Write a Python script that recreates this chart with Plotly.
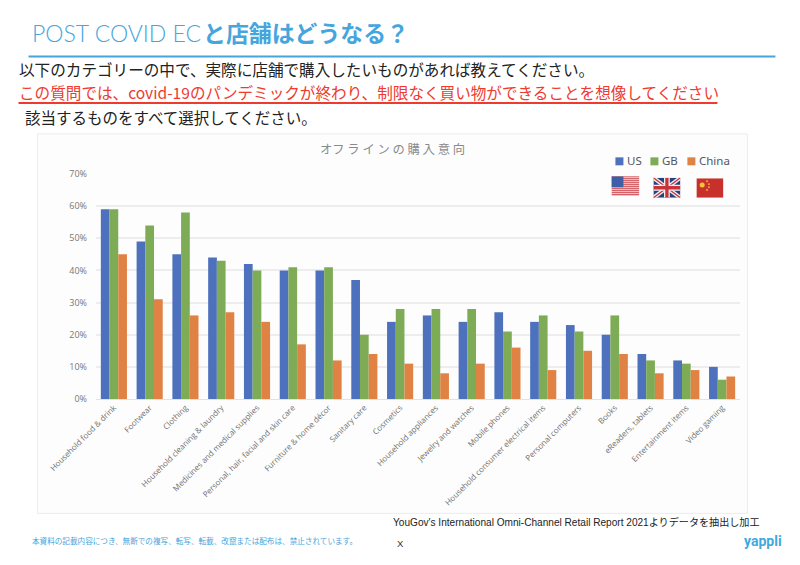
import base64
import plotly.graph_objects as go

categories = ["Household food & drink", "Footwear", "Clothing", "Household cleaning & laundry",
              "Medicines and medical supplies", "Personal, hair, facial and skin care",
              "Furniture & home décor", "Sanitary care", "Cosmetics", "Household appliances",
              "Jewelry and watches", "Mobile phones", "Household consumer electrical items",
              "Personal computers", "Books", "eReaders, tablets", "Entertainment items", "Video gaming"]
us = [59, 49, 45, 44, 42, 40, 40, 37, 24, 26, 24, 27, 24, 23, 20, 14, 12, 10]
gb = [59, 54, 58, 43, 40, 41, 41, 20, 28, 28, 28, 21, 26, 21, 26, 12, 11, 6]
china = [45, 31, 26, 27, 24, 17, 12, 14, 11, 8, 11, 16, 9, 15, 14, 8, 9, 7]
y_ticks = [0, 10, 20, 30, 40, 50, 60, 70]

W, H = 800, 565
L, R, T, B = 95.5, 739.6, 173.7, 399.3
BLUE, GREEN, ORANGE = "#4d71bd", "#7eab55", "#df8244"
JP = "Noto Sans CJK JP"


def px(x):
    return (x - L) / (R - L)


def py(y):
    return (B - y) / (B - T)


def label(x, y, text, size, color, anchor="left", family=JP, weight=None):
    font = dict(size=size, color=color, family=family)
    if weight:
        font["weight"] = weight
    return dict(x=px(x), y=py(y), xref="paper", yref="paper", text=text, showarrow=False,
                xanchor=anchor, yanchor="middle", font=font, borderpad=0, borderwidth=0)


def box(x0, y0, x1, y1, fill=None, line=None, width=1, layer="above"):
    return dict(type="rect", xref="paper", yref="paper", x0=px(x0), x1=px(x1), y0=py(y0), y1=py(y1),
                fillcolor=fill or "rgba(0,0,0,0)", line=dict(color=line or "rgba(0,0,0,0)", width=width if line else 0),
                layer=layer)


def rule(x0, x1, y, color, width):
    return dict(type="line", xref="paper", yref="paper", x0=px(x0), x1=px(x1), y0=py(y), y1=py(y),
                line=dict(color=color, width=width), layer="above")


fig = go.Figure()
for name, vals, color in (("US", us, BLUE), ("GB", gb, GREEN), ("China", china, ORANGE)):
    fig.add_bar(x=categories, y=vals, name=name, marker=dict(color=color, line=dict(width=0)))


def flag(svg):
    return "data:image/svg+xml;base64," + base64.b64encode(svg.encode()).decode()


us_stripes = "".join(f'<rect y="{i*2}" width="28" height="1" fill="#c9323a"/>' for i in range(0, 10))
us_flag = ('<svg xmlns="http://www.w3.org/2000/svg" viewBox="0 0 28 20" width="280" height="200">'
           '<rect width="28" height="20" fill="#f4f4f4"/>' + us_stripes +
           '<rect width="12" height="11" fill="#3f5ea8"/></svg>')
gb_flag = ('<svg xmlns="http://www.w3.org/2000/svg" viewBox="0 0 28 20" width="280" height="200">'
           '<rect width="28" height="20" fill="#27407f"/>'
           '<path d="M0 0L28 20M28 0L0 20" stroke="#eee" stroke-width="4"/>'
           '<path d="M0 0L28 20M28 0L0 20" stroke="#c9323a" stroke-width="1.4"/>'
           '<path d="M14 0V20M0 10H28" stroke="#eee" stroke-width="6"/>'
           '<path d="M14 0V20M0 10H28" stroke="#c9323a" stroke-width="3.4"/></svg>')
cn_flag = ('<svg xmlns="http://www.w3.org/2000/svg" viewBox="0 0 28 20" width="280" height="200">'
           '<rect width="28" height="20" fill="#c8302c"/>'
           '<circle cx="6" cy="7" r="2.6" fill="#f3c13a"/>'
           '<circle cx="11" cy="3" r=".9" fill="#f3c13a"/><circle cx="13" cy="6" r=".9" fill="#f3c13a"/>'
           '<circle cx="13" cy="9" r=".9" fill="#f3c13a"/><circle cx="11" cy="12" r=".9" fill="#f3c13a"/></svg>')


def image(src, x0, y0, x1, y1):
    return dict(source=flag(src), xref="paper", yref="paper", x=px(x0), y=py(y0),
                sizex=px(x1) - px(x0), sizey=py(y0) - py(y1), xanchor="left", yanchor="top",
                sizing="stretch", layer="above")


annotations = [
    label(31, 32, "POST COVID EC", 23, "#45a5dc", family="Lato", weight=300),
    label(203, 31.5, "と店舗はどうなる？", 22.9, "#45a5dc", weight=700),
    label(18, 68.5, "以下のカテゴリーの中で、実際に店舗で購入したいものがあれば教えてください。", 15.6, "#222222"),
    label(18, 91.5, "この質問では、covid-19のパンデミックが終わり、制限なく買い物ができることを想像してください", 15.6, "#f03a2e"),
    label(24, 117, "該当するものをすべて選択してください。", 15.5, "#222222"),
    label(392, 148.5, "オフ ラ イ ン の 購 入 意 向", 12.3, "#8a8a8a", anchor="center"),
    label(627, 160.5, "US", 11.5, "#4f5566", family="Noto Sans"),
    label(662, 160.5, "GB", 11.5, "#4f5566", family="Noto Sans"),
    label(699, 160.5, "China", 11.5, "#4f5566", family="Noto Sans"),
    label(393, 522.5, "YouGov's International Omni-Channel Retail Report 2021よりデータを抽出し加工", 10.1, "#222222", family="Liberation Sans, " + JP),
    label(31, 541.5, "本資料の記載内容につき、無断での複写、転写、転載、改竄または配布は、禁止されています。", 7.6, "#45a5dc"),
    label(397, 544, "X", 9.5, "#333333", family="Liberation Sans"),
    label(744, 542, "yappli", 14, "#3fa9dd", family="Roboto", weight=700),
]

shapes = [
    box(37, 133.5, 747, 514, fill="#fdfdfd", line="#ececec", width=1, layer="below"),
    rule(28, 775, 56, "#45a5dc", 2),
    rule(18, 717, 102.5, "#f03a2e", 2),
    box(615, 157, 623, 165, fill=BLUE),
    box(650, 157, 658, 165, fill=GREEN),
    box(687, 157, 695, 165, fill=ORANGE),
]

fig.update_layout(
    width=W, height=H, autosize=False,
    margin=dict(l=L, r=W - R, t=T, b=H - B, pad=0),
    paper_bgcolor="white", plot_bgcolor="rgba(0,0,0,0)",
    barmode="group", bargap=0.27, bargroupgap=0,
    showlegend=False,
    font=dict(family="Noto Sans", color="#777777"),
    annotations=annotations, shapes=shapes,
    images=[image(us_flag, 611, 176, 639, 196), image(gb_flag, 653, 177.5, 680, 197.5),
            image(cn_flag, 696, 178, 723, 197.5)],
    xaxis=dict(type="category", tickangle=-45, tickfont=dict(size=8, color="#707070", family="Open Sans"),
               ticks="", showgrid=False, showline=True, linecolor="#e2e2e2", linewidth=1,
               automargin=False, range=[-0.5, 17.5]),
    yaxis=dict(range=[0, 70], tickvals=y_ticks, ticktext=[f"{v}%" for v in y_ticks],
               tickfont=dict(size=9, color="#777777", family="Open Sans"), ticks="",
               ticklabelstandoff=8, gridcolor="#ededed", gridwidth=1.5, showline=False,
               zeroline=False, automargin=False),
)

fig.write_html("out.html", config=dict(displayModeBar=False),
               post_script="document.body.style.margin='0';document.documentElement.style.overflow='hidden';")
